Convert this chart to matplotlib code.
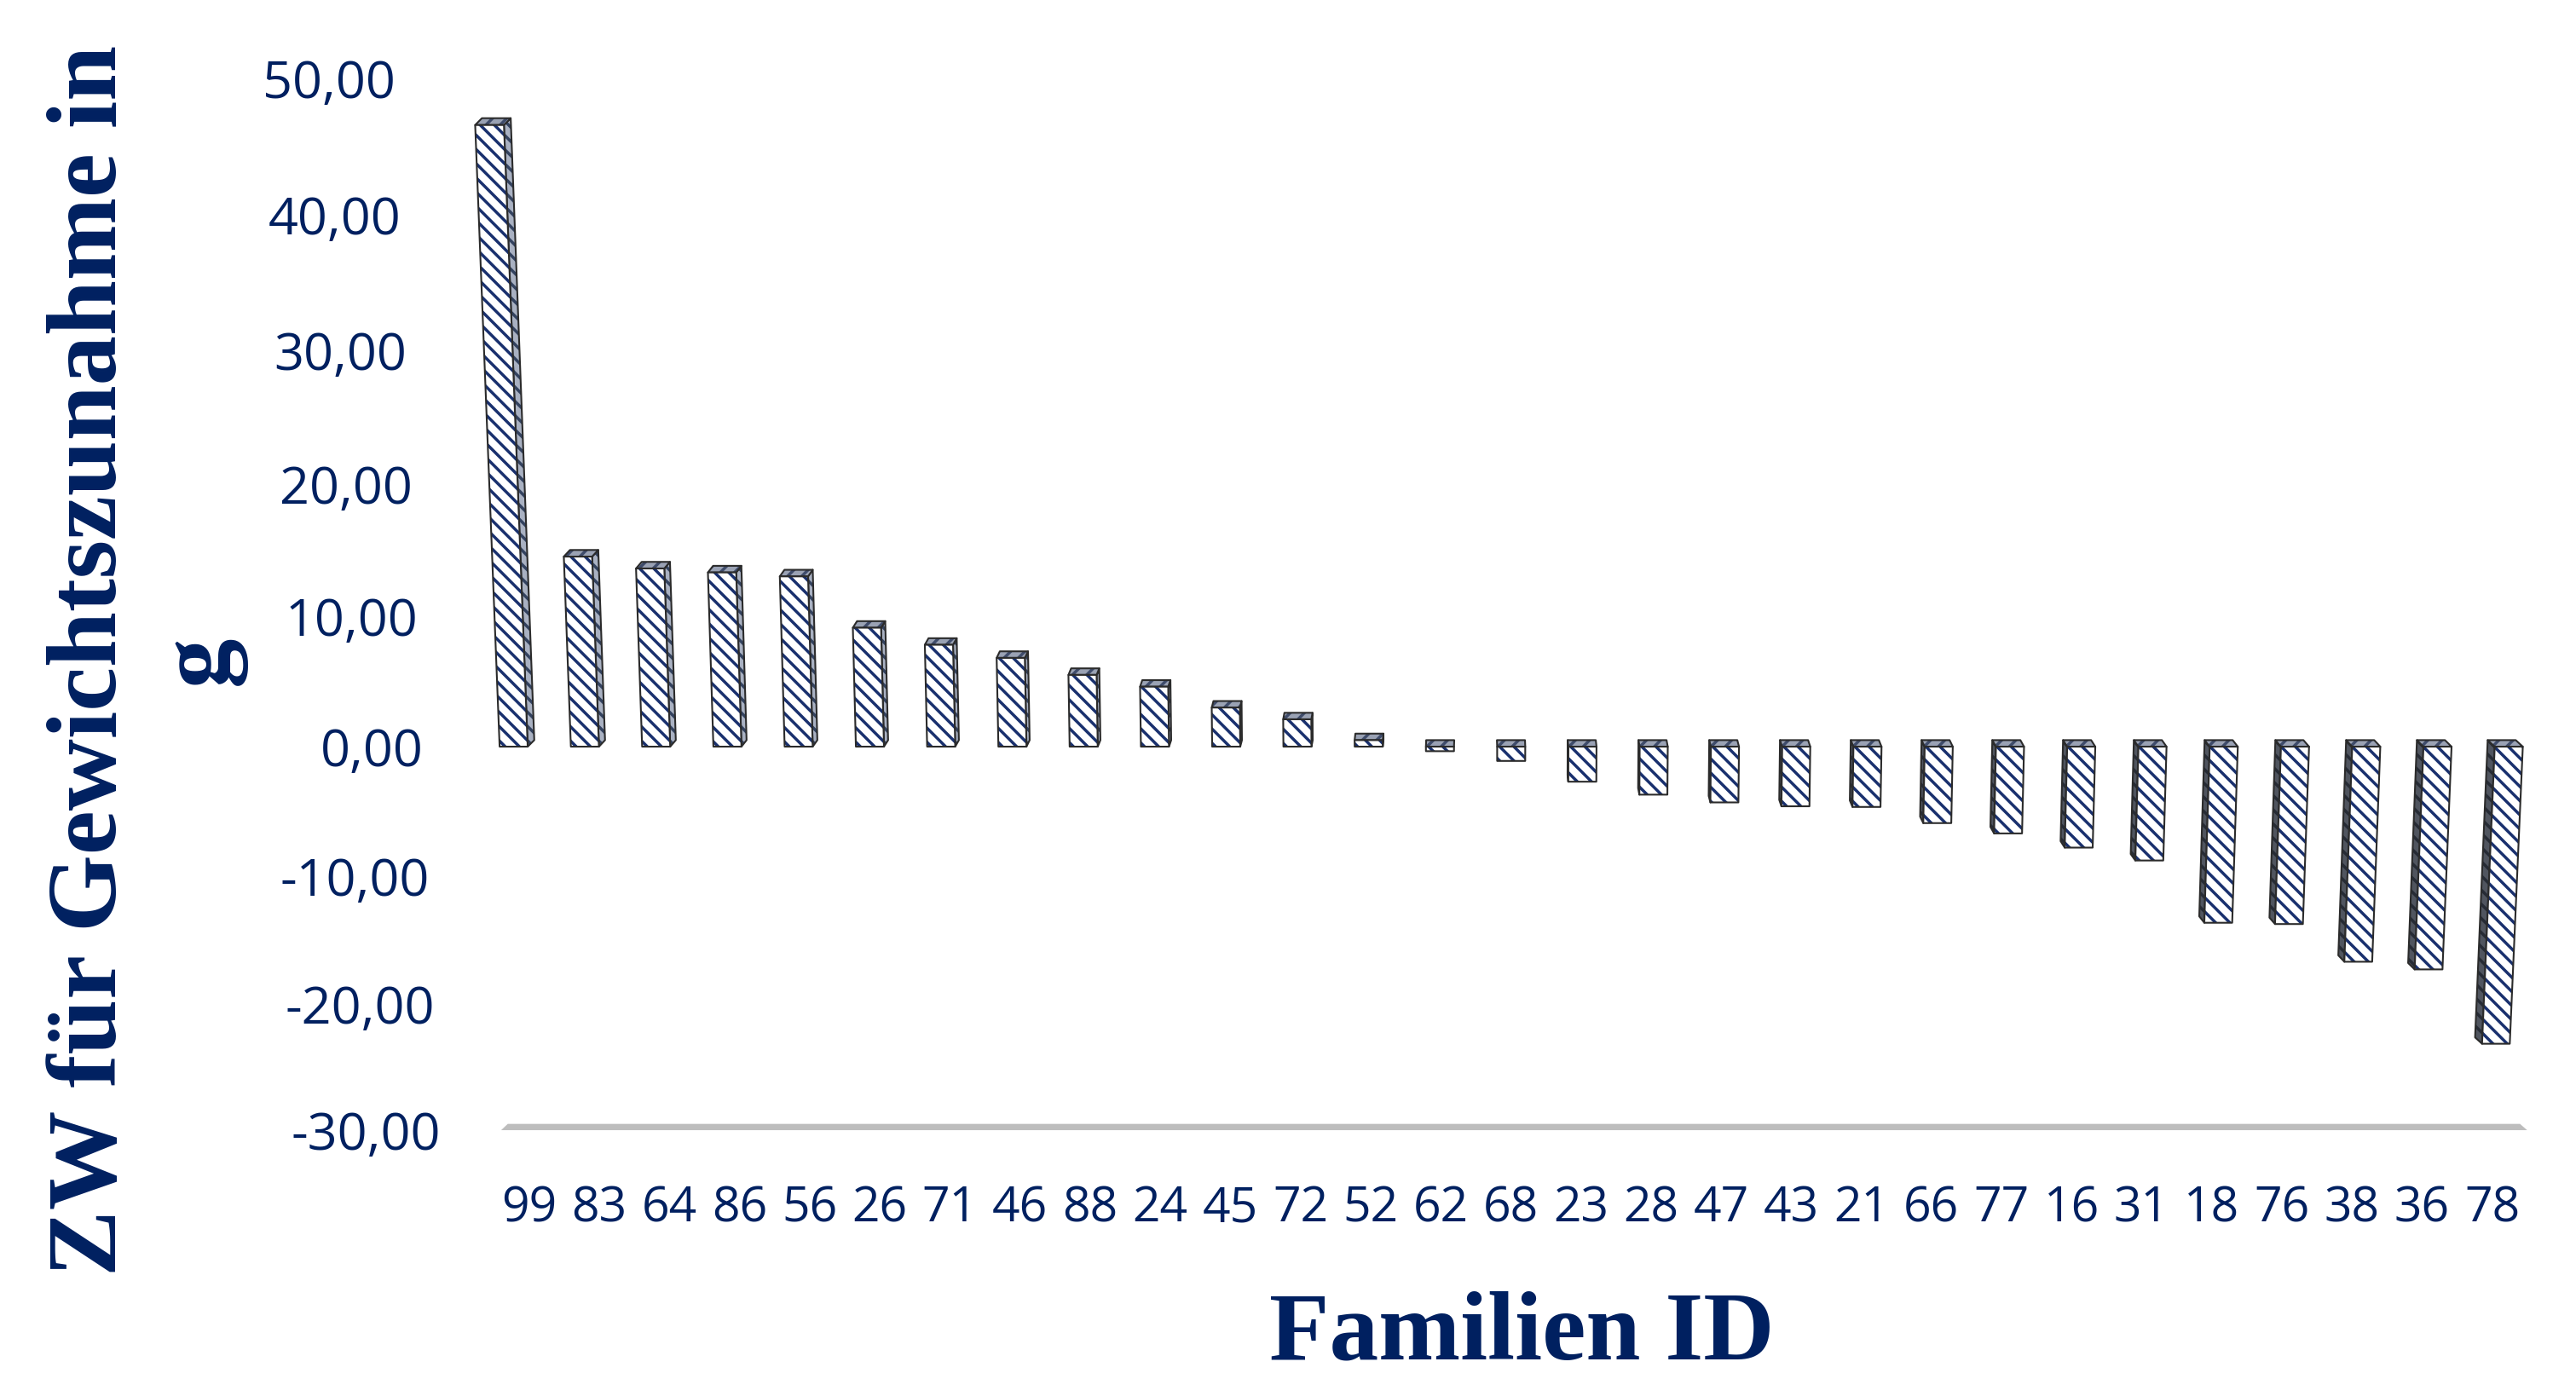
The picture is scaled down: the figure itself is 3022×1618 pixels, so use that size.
import numpy as np
import matplotlib
matplotlib.use("Agg")
import matplotlib.pyplot as plt
from matplotlib.patches import Polygon

# ---------------------------------------------------------------- data
family_ids = ["99", "83", "64", "86", "56", "26", "71", "46", "88", "24",
              "45", "72", "52", "62", "68", "23", "28", "47", "43", "21",
              "66", "77", "16", "31", "18", "76", "38", "36", "78"]
zw_values = [46.6, 14.5, 13.6, 13.3, 13.0, 9.1, 7.8, 6.8, 5.5, 4.6,
             3.0, 2.1, 0.5, -0.35, -1.1, -2.7, -3.7, -4.3, -4.6, -4.65,
             -5.9, -6.7, -7.8, -8.8, -13.65, -13.75, -16.7, -17.3, -23.15]
y_ticks = [-30, -20, -10, 0, 10, 20, 30, 40, 50]

# ---------------------------------------------------------------- style
NAVY = "#002060"
HATCH_NAVY = "#19306E"
OUTLINE = "#2B2B2B"
FLOOR = "#BDBDBD"

DPI = 200
W_PX, H_PX = 3022, 1618
plt.rcParams["hatch.linewidth"] = 1.25

fig = plt.figure(figsize=(W_PX / DPI, H_PX / DPI), dpi=DPI)
fig.patch.set_facecolor("white")

# axes box in pixels (left, top, right, bottom)
ax_l, ax_t, ax_r, ax_b = 519, 59.8, 3010, 1355.5
ax = fig.add_axes([ax_l / W_PX, 1 - ax_b / H_PX,
                   (ax_r - ax_l) / W_PX, (ax_b - ax_t) / H_PX])

# slight perspective compression of the value axis
A = 0.000557


def fwd(v):
    v = np.asarray(v, dtype=float)
    return v + A * v * v


def inv(u):
    u = np.asarray(u, dtype=float)
    return (-1 + np.sqrt(np.clip(1 + 4 * A * u, 0, None))) / (2 * A)


ax.set_yscale("function", functions=(fwd, inv))
ax.set_xlim(-1, 28.8)
ax.set_ylim(-32, 52)

# 3-D look: vertical edges converge to a vanishing point far below
XC = 13.5          # category position seen straight on
YV = 1860.0        # distance (value units) to the vanishing point
SHIFT = 0.0071     # sideways shift of the back face per category
RISE = 0.5         # upward shift of the back face (value units)
HALF_W = 0.197     # half of the front face width


def proj(x, y):
    return (XC + (x - XC) * (1 + y / YV), y)


def face(verts, fc, hc, hatch):
    pts = [proj(x, y) for x, y in verts]
    ax.add_patch(Polygon(pts, closed=True, facecolor=fc, edgecolor=hc,
                         hatch=hatch, linewidth=0, clip_on=False))
    ax.add_patch(Polygon(pts, closed=True, fill=False, edgecolor=OUTLINE,
                         linewidth=0.75, joinstyle="round", clip_on=False))


# floor of the plot
x_f0, x_f1 = -0.4, 28.5
floor = [proj(x_f0, -30), proj(x_f1, -30),
         proj(x_f1 + SHIFT * (XC - x_f1), -30 + RISE),
         proj(x_f0 + SHIFT * (XC - x_f0), -30 + RISE)]
ax.add_patch(Polygon(floor, closed=True, facecolor=FLOOR, edgecolor="none",
                     clip_on=False))

for i, v in enumerate(zw_values):
    x0, x1 = i - HALF_W, i + HALF_W
    lo, hi = min(0.0, v), max(0.0, v)
    s = SHIFT * (XC - i)
    # visible side face
    if abs(s) > 0.004:
        if s > 0:
            side = [(x1, lo), (x1, hi), (x1 + s, hi + RISE), (x1 + s, lo + RISE)]
            face(side, "#A9B1C2", "#33425F", "\\\\\\\\")
        else:
            side = [(x0, lo), (x0, hi), (x0 + s, hi + RISE), (x0 + s, lo + RISE)]
            face(side, "#50555F", "#262B35", "\\\\\\\\")
    # top face
    top = [(x0, hi), (x1, hi), (x1 + s, hi + RISE), (x0 + s, hi + RISE)]
    face(top, "#9AA2B4", "#3F4C6B", "////")
    # front face
    front = [(x0, lo), (x1, lo), (x1, hi), (x0, hi)]
    face(front, "white", HATCH_NAVY, "\\\\\\\\")

# category labels sit on the front edge of the floor
label_pos = [proj(i, -30)[0] for i in range(len(family_ids))]
ax.set_xticks(label_pos, family_ids)
ax.set_yticks(y_ticks, [f"{t:.2f}".replace(".", ",") for t in y_ticks])

for lab in ax.get_xticklabels():
    lab.set_fontfamily("Open Sans")
    lab.set_fontsize(20.5)
    lab.set_color(NAVY)
for lab in ax.get_yticklabels():
    lab.set_fontfamily("Open Sans")
    lab.set_fontsize(22)
    lab.set_color(NAVY)

ax.tick_params(axis="both", length=0)
ax.tick_params(axis="x", pad=12.5)
# value labels follow the slanted wall of the chart
for t, tick in zip(y_ticks, ax.yaxis.get_major_ticks()):
    tick.set_pad((22 + 0.67 * t) / (DPI / 72))

for sp in ax.spines.values():
    sp.set_visible(False)
ax.patch.set_alpha(0)

fig.text(172 / W_PX, 1 - 775 / H_PX, "ZW für Gewichtszunahme in\ng",
         rotation=90, ha="center", va="center", multialignment="center",
         fontsize=42, fontweight="bold", family="Liberation Serif",
         color=NAVY, linespacing=1.25)
fig.text(1785 / W_PX, 1 - 1594 / H_PX, "Familien ID", ha="center",
         va="baseline", fontsize=41.5, fontweight="bold",
         family="Liberation Serif", color=NAVY)

fig.savefig("out.png", dpi=DPI, facecolor="white")
